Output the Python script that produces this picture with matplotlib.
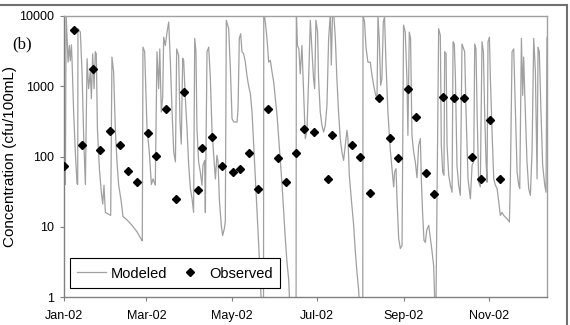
import numpy as np
import pandas as pd
import matplotlib
matplotlib.use("Agg")
import matplotlib.pyplot as plt
import matplotlib.dates as mdates
from matplotlib.lines import Line2D

plt.rcParams['font.family'] = ['Liberation Sans', 'DejaVu Sans']

start = pd.Timestamp('2002-01-01')

# modeled series: day offset from 1 Jan 2002 and concentration
model_day = [
    0.0, 0.6, 1.0, 1.5, 2.9, 3.8, 4.5, 5.3, 5.7, 6.9, 8.1, 9.3, 9.8, 10.0, 11.7, 12.9, 14.1, 15.3,
    16.5, 17.6, 18.8, 19.6, 20.5, 21.5, 22.4, 23.1, 23.9, 25.3, 26.7, 27.7, 28.6, 29.6, 32.0, 33.4,
    34.3, 35.5, 36.7, 37.9, 39.1, 40.8, 42.2, 45.1, 48.6, 52.2, 55.3, 56.0, 56.5, 57.7, 59.4, 61.1,
    62.5, 63.7, 65.3, 66.5, 67.7, 68.5, 69.6, 70.6, 71.3, 72.5, 73.7, 74.9, 76.1, 77.3, 78.5, 79.7,
    80.6, 82.0, 83.0, 83.9, 84.9,
    85.6, 86.8, 88.0, 89.2, 90.4, 91.6, 92.7, 93.5, 94.4, 95.1, 96.3, 97.5, 98.7, 99.4, 100.6, 101.1,
    102.3, 103.5, 104.7, 105.9, 107.1, 108.3, 109.4, 110.2, 111.1, 112.5, 113.5, 114.7, 115.4, 116.1,
    117.8, 119.0, 120.2, 121.4, 123.8, 124.5, 125.4, 126.4, 127.3, 128.5, 129.7, 130.9, 132.1, 133.3,
    134.5, 135.7, 136.9, 138.1, 139.3, 140.4, 141.6, 142.7, 142.9, 144.0, 145.2, 146.4, 147.6, 148.8,
    150.0, 151.2, 152.4, 153.6, 154.8, 156.0, 157.2, 158.3, 159.5, 160.7, 161.9, 166.0, 166.2, 167.0,
    168.0, 169.0,
    170.2, 172.6, 173.8, 175.0, 176.2, 177.4, 178.5, 179.3, 180.2, 181.4, 182.1, 183.3, 184.5, 185.7,
    186.9, 188.1, 189.3, 190.5, 191.2, 192.1, 192.9, 194.1, 195.2, 196.4, 197.6, 198.8, 200.0, 201.2,
    202.4, 203.1, 204.1, 205.5, 207.2, 208.4, 209.6, 210.7, 211.9, 213.7, 213.9, 215.0, 216.0, 217.4,
    219.1, 220.3, 221.5, 222.7, 223.9, 224.6, 225.5, 226.5, 227.4, 228.4, 229.3, 230.3, 231.7, 233.4,
    234.6, 235.8, 236.5, 237.5, 238.2, 239.4, 240.6, 241.8, 242.9, 244.1, 245.3, 246.0, 247.0, 247.9,
    248.9, 250.1, 251.3, 252.5, 253.7, 254.9, 255.6, 256.5, 257.5, 258.5, 259.5, 260.9, 262.0, 263.3,
    264.4, 265.6, 266.0, 268.0,
    269.2, 269.9, 270.9, 271.8, 272.3, 273.3, 274.0, 275.2, 276.4, 277.6, 278.3, 279.2, 280.0, 281.1,
    282.3, 283.5, 284.7, 285.9, 286.6, 287.6, 289.0, 290.7, 291.9, 293.1, 293.8, 294.7, 295.5, 296.6,
    297.8, 299.0, 300.0, 300.9, 301.9, 302.6, 303.3, 304.3, 305.0, 306.2, 307.4, 308.6, 309.8, 311.0,
    312.1, 313.3, 314.5, 316.9, 318.6, 319.3, 320.5, 321.7, 322.9, 324.1, 325.3, 326.0, 327.2, 328.1,
    328.8, 330.0, 331.2, 332.4, 333.6, 334.8, 336.0, 337.2, 338.4, 339.1, 340.0, 341.2, 342.4, 343.9,
    344.8, 345.5, 346.3, 347.2,
]
model_val = [
    45, 70, 40, 11000, 2200, 3800, 2300, 3900, 2500, 430, 116, 41, 40, 6600, 5900, 1600, 180, 40,
    2470, 925, 1600, 665, 2900, 925, 3100, 2900, 250, 67, 31, 21, 39, 16, 15, 14.5,
    2600, 1600, 250, 84, 39, 24, 14, 12.5, 10.5, 8.5, 6.6, 6.3, 3600, 3100, 250, 110,
    40, 48, 39, 3100, 925, 3400, 430, 700, 5000, 3800, 5900, 8200, 2200, 430, 116, 84,
    3400, 2750, 300, 150, 2500,
    2340, 665, 250, 75, 35, 25, 16, 4800, 3100, 250, 84, 60, 39, 75, 88, 16,
    3100, 3600, 1280, 223, 104, 48, 104, 84, 25, 10.5, 7.5, 9.4, 12, 8700,
    6600, 1800, 345, 310, 310, 480, 4800, 5600, 3100, 2900, 2200, 1400, 1000, 785,
    430, 144, 48, 16, 5.4, 1.8, 0.5, 0.5, 12000, 8200, 4800, 2200, 2340, 1600,
    1150, 665, 385, 180, 84, 39, 16, 6.8, 3.1, 1.8, 0.5, 0.5, 12000, 3800,
    3400, 1500,
    3800, 180, 236, 1280, 8700, 3100, 1280, 925, 8700, 5900, 1280, 430, 278, 223,
    278, 535, 4800, 10800, 2000, 10800, 11400, 4800, 1280, 430, 180, 116, 88, 144,
    236, 180, 54, 25, 10.5, 4.4, 2.2, 1.3, 0.5, 0.5, 10200, 8200, 3600, 2200,
    2200, 1430, 1030, 785, 665, 10200, 4800, 1030, 1280, 8200, 9700, 2200, 430, 125,
    67, 37, 60, 67, 25, 6.8, 4.9, 5.4, 7400, 5900, 1280, 200, 5900, 4800,
    200, 116, 84, 50, 144, 180, 48, 16, 6.4, 6, 9, 10.5, 7, 4.4,
    2.8, 0.5, 0.5, 6600,
    5300, 145, 60, 54, 3100, 2900, 144, 54, 39, 31, 4300, 4000, 1280, 75,
    39, 28, 4000, 3400, 3100, 430, 48, 25, 75, 84, 4000, 3400, 430, 43,
    37, 4300, 3100, 430, 84, 43, 4300, 5000, 1280, 223, 48, 39, 35, 22.5,
    14.5, 16, 14.5, 13, 11.7, 48, 3100, 3400, 430, 60, 39, 35, 4800, 740,
    2600, 430, 84, 35, 28, 116, 4800, 1600, 48, 3600, 3100, 430, 75, 39,
    31, 5000, 1500, 2000,
]

# observed samples
obs_date = [
    '2002-01-01', '2002-01-08', '2002-01-14', '2002-01-22', '2002-01-27', '2002-02-03', '2002-02-10',
    '2002-02-16', '2002-02-22', '2002-03-02', '2002-03-08', '2002-03-15', '2002-03-22', '2002-03-28',
    '2002-04-07', '2002-04-10', '2002-04-17', '2002-04-24', '2002-05-02', '2002-05-07', '2002-05-13',
    '2002-05-20', '2002-05-27', '2002-06-03', '2002-06-09', '2002-06-16', '2002-06-22', '2002-06-29',
    '2002-07-09', '2002-07-12', '2002-07-26', '2002-08-01', '2002-08-08', '2002-08-14', '2002-08-22',
    '2002-08-28', '2002-09-04', '2002-09-10', '2002-09-17', '2002-09-23', '2002-09-29', '2002-10-07',
    '2002-10-14', '2002-10-20', '2002-10-26', '2002-11-02', '2002-11-09',
]
obs_val = [
    74, 6300, 146, 1760, 124, 231, 146,
    63, 43, 216, 102, 479, 25, 836,
    33, 133, 190, 74, 60, 66, 113,
    34, 470, 94, 43, 113, 250, 221,
    48, 202, 144, 98, 30, 687, 182,
    94, 914, 369, 59, 29, 697, 687,
    687, 97, 48, 331, 48,
]

x_model = start + pd.to_timedelta(model_day, unit='D')
x_obs = pd.to_datetime(obs_date)

fig = plt.figure(figsize=(5.7, 3.25), dpi=100)
ax = fig.add_axes([64 / 570, 1 - 297 / 325, 483 / 570, 281 / 325])

ax.plot(x_model, model_val, color='#a0a0a0', lw=0.9, label='Modeled', zorder=2)
ax.plot(x_obs, obs_val, ls='none', marker='D', ms=4.2, color='black', label='Observed', zorder=3)

ax.set_yscale('log')
ax.set_ylim(1, 10000)
ax.set_yticks([1, 10, 100, 1000, 10000])
ax.set_yticklabels(['1', '10', '100', '1000', '10000'])
ax.yaxis.set_minor_locator(matplotlib.ticker.NullLocator())
ax.set_xlim(start, start + pd.Timedelta(days=345.5))
ax.xaxis.set_major_locator(mdates.MonthLocator(bymonth=[1, 3, 5, 7, 9, 11]))
ax.xaxis.set_major_formatter(mdates.DateFormatter('%b-%y'))
ax.tick_params(axis='both', labelsize=9, length=3, width=0.8, color='#808080', direction='out')
ax.tick_params(axis='x', pad=6.5)
ax.tick_params(axis='y', pad=4)

for side in ['left', 'bottom']:
    ax.spines[side].set_color('#808080')
    ax.spines[side].set_linewidth(1.0)
for side in ['top', 'right']:
    ax.spines[side].set_color('#a0a0a0')
    ax.spines[side].set_linewidth(1.0)

fig.text(10 / 570, 1 - 156.5 / 325, 'Concentration (cfu/100mL)', rotation=90,
         ha='center', va='center', fontsize=11)
fig.text(22.5 / 570, 1 - 44 / 325, '(b)', ha='center', va='center', fontsize=12,
         family=['Liberation Serif', 'DejaVu Serif'])

handles = [Line2D([], [], color='#a0a0a0', lw=0.9),
           Line2D([], [], ls='none', marker='D', ms=4.2, color='black')]
leg = ax.legend(handles, ['Modeled', 'Observed'], ncol=2, loc='lower left',
                bbox_to_anchor=(0.012, 0.032), fontsize=10.5, frameon=True, fancybox=False,
                edgecolor='black', framealpha=1, handlelength=2.0, handletextpad=0.3,
                handleheight=1.2, columnspacing=0.6, borderpad=0.5, borderaxespad=0)
leg.get_frame().set_linewidth(0.8)
leg.set_zorder(5)

# outer chart border (top and right visible)
fig.add_artist(Line2D([0, 567 / 570], [1 - 4.5 / 325, 1 - 4.5 / 325], transform=fig.transFigure,
                      color='#707070', lw=1.5))
fig.add_artist(Line2D([567 / 570, 567 / 570], [0, 1 - 4.5 / 325], transform=fig.transFigure,
                      color='#707070', lw=1.5))

fig.savefig('out.png', dpi=100)
